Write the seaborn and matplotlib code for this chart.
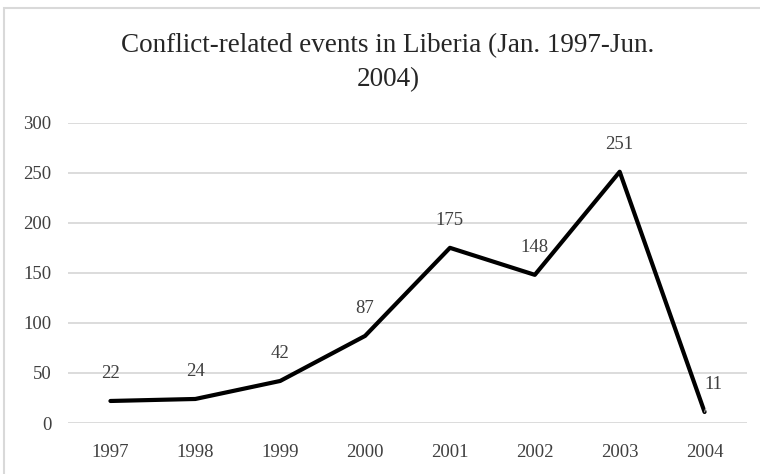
import pandas as pd
import numpy as np
import matplotlib.pyplot as plt
import seaborn as sns
from matplotlib.patches import Rectangle

years = ['1997', '1998', '1999', '2000', '2001', '2002', '2003', '2004']
events = [22, 24, 42, 87, 175, 148, 251, 11]
y_ticks = [0, 50, 100, 150, 200, 250, 300]

df = pd.DataFrame({'year': years, 'events': events})

sns.set_theme(style='white')
plt.rcParams['font.family'] = ['Liberation Serif', 'DejaVu Serif']

fig = plt.figure(figsize=(7.6, 4.74), dpi=100)
ax = fig.add_axes([68 / 760, 51 / 474, (747 - 68) / 760, (423 - 122.7) / 474])

# light frame around the whole chart
fig.patches.append(Rectangle((4 / 760, -0.05), 1.2, (474 - 8) / 474 + 0.05,
                             transform=fig.transFigure, fill=False,
                             edgecolor='#d9d9d9', linewidth=1.5))

sns.lineplot(data=df, x='year', y='events', ax=ax, color='black',
             linewidth=3.0, sort=False)

ax.set_xlim(-0.5, len(years) - 0.5)
ax.set_ylim(0, 300)
ax.set_yticks(y_ticks)
ax.yaxis.grid(True, color='#d9d9d9', linewidth=1.3)
ax.set_axisbelow(True)
for s in ax.spines.values():
    s.set_visible(False)
ax.tick_params(axis='both', length=0, labelsize=13.5, colors='#404040')
ax.tick_params(axis='x', pad=15)
ax.tick_params(axis='y', pad=12)
ax.set_xlabel('')
ax.set_ylabel('')

# data labels
for i, v in enumerate(events):
    if i == len(events) - 1:
        ax.annotate(str(v), (i, v), xytext=(9, 27), textcoords='offset pixels',
                    ha='center', va='center', fontsize=13.5, color='#404040',
                    arrowprops=dict(arrowstyle='-', color='#a6a6a6', lw=0.8,
                                    shrinkA=9, shrinkB=3))
    else:
        ax.annotate(str(v), (i, v), xytext=(0, 27), textcoords='offset pixels',
                    ha='center', va='center', fontsize=13.5, color='#404040')

fig.text(388 / 760, 1 - 46 / 474, 'Conflict-related events in Liberia (Jan. 1997-Jun.',
         ha='center', va='center', fontsize=19.5, color='#262626')
fig.text(388 / 760, 1 - 80 / 474, '2004)',
         ha='center', va='center', fontsize=19.5, color='#262626')

fig.savefig('out.png', dpi=100)
